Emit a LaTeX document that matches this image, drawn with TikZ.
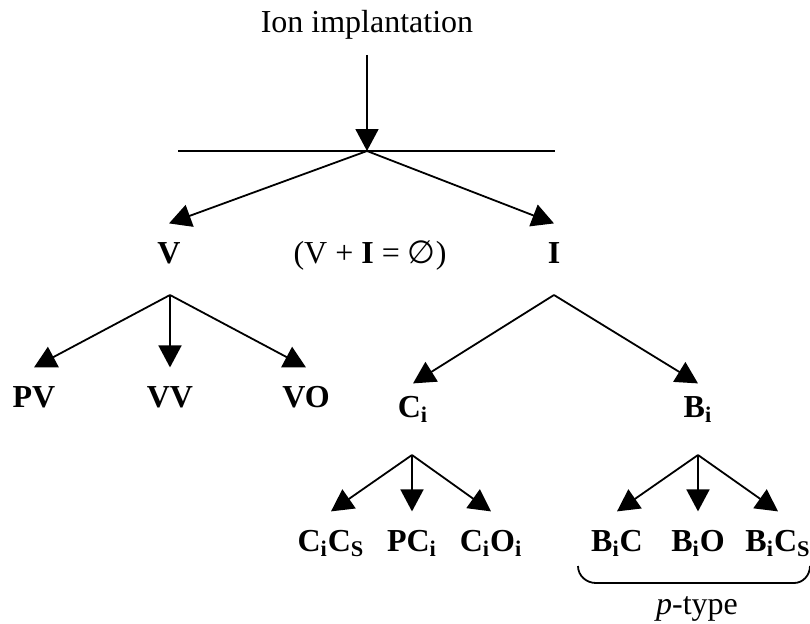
\documentclass[tikz,border=0pt]{standalone}
\usepackage{fontspec}
\setmainfont{Liberation Serif}
\newfontfamily\symfont{DejaVu Sans}
\usetikzlibrary{arrows.meta, positioning}

\begin{document}
\begin{tikzpicture}[x=0.5pt, y=-0.5pt,
	font=\fontsize{16}{19}\selectfont,
	lbl/.style={font=\fontsize{16}{19}\selectfont\bfseries, anchor=base,
		text height=10.6pt, inner xsep=0pt, inner ysep=9pt},
	arr/.style={line width=0.9pt, -{Triangle[length=11pt,width=11.5pt]}}]
	\useasboundingbox (0,0) rectangle (810,623);

	% top
	\node[anchor=base] (ion) at (367,32) {Ion implantation};
	\coordinate (split) at (367,151);
	\coordinate (hl) at (178,151);
	\coordinate (hr) at (555,151);
	\draw[line width=0.9pt] (hl) -- (hr);
	\draw[arr, shorten <=4.5pt] (ion) -- (split);

	% V and I
	\node[lbl] (v) at (169,263) {V};
	\node[lbl] (i) at (554,263) {I};
	\node[anchor=base] (rule) at (370,263) {(V + \textbf{I} = {\symfont ∅})};
	\draw[arr] (split) -- (v.north);
	\draw[arr] (split) -- (i.north);

	% vacancy side
	\coordinate (vsplit) at (170,295);
	\node[lbl] (pv) at (34,407) {PV};
	\node[lbl] (vv) at (170,407) {VV};
	\node[lbl] (vo) at (306,407) {VO};
	\foreach \n in {pv,vv,vo}
		\draw[arr] (vsplit) -- (\n.north);

	% interstitial side
	\coordinate (isplit) at (554,295);
	\node[lbl, inner ysep=6pt] (ci) at (413,417) {C\textsubscript{i}};
	\node[lbl, inner ysep=6pt] (bi) at (698,417) {B\textsubscript{i}};
	\draw[arr] (isplit) -- (ci.north);
	\draw[arr] (isplit) -- (bi.north);

	% carbon products
	\coordinate (csplit) at (412,455);
	\node[lbl] (cics) at (331,551) {C\textsubscript{i}C\textsubscript{S}};
	\node[lbl] (pci) at (412,551) {PC\textsubscript{i}};
	\node[lbl] (cioi) at (491,551) {C\textsubscript{i}O\textsubscript{i}};
	\foreach \n in {cics,pci,cioi}
		\draw[arr] (csplit) -- (\n.north);

	% boron products
	\coordinate (bsplit) at (698,455);
	\node[lbl] (bic) at (617,551) {B\textsubscript{i}C};
	\node[lbl] (bio) at (698,551) {B\textsubscript{i}O};
	\node[lbl] (bics) at (778,551) {B\textsubscript{i}C\textsubscript{S}};
	\foreach \n in {bic,bio,bics}
		\draw[arr] (bsplit) -- (\n.north);

	% p-type bracket
	\coordinate (bl) at (578,566);
	\coordinate (br) at (810,566);
	\draw[line width=0.9pt] (bl) to[out=-90,in=180] (596,583) -- (794,583) to[out=0,in=-90] (br);
	\node[anchor=base] (ptype) at (697,614) {\emph{p}-type};
\end{tikzpicture}
\end{document}
